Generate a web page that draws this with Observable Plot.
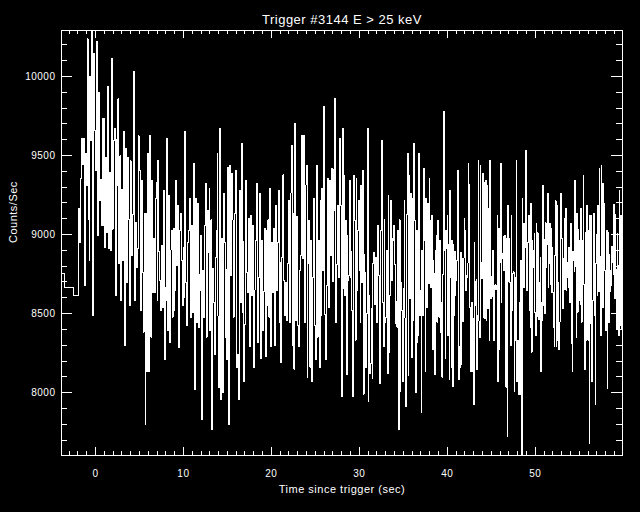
<!DOCTYPE html>
<html><head><meta charset="utf-8">
<script src="https://cdn.jsdelivr.net/npm/d3@7"></script>
<script src="https://cdn.jsdelivr.net/npm/@observablehq/plot@0.6"></script>
<style>
html,body{margin:0;padding:0;background:#000;}
#chart svg path, #chart svg line, #chart svg rect{shape-rendering:crispEdges;}
</style></head><body><div id="chart"></div>
<script>
const title = "Trigger #3144 E > 25 keV";
const xLabel = "Time since trigger (sec)";
const yLabel = "Counts/Sec";
const xTickLabels = [0, 10, 20, 30, 40, 50];
const yTickLabels = [8000, 8500, 9000, 9500, 10000];
const xDomain = [-3.86, 59.92];

// pre-burst coarse bins
const preTimes = [-3.86, -3.49, -2.47];
const preValues = [8751, 8663, 8614];

// fine-resolution segments, evenly spaced inside each segment
const segEdges = [-1.90, 6.70, 17.39, 28.07, 38.75, 49.43, 59.92];
const segA = [9167, 8951, 9356, 9609, 9445, 9609, 8677, 9514, 9308, 10237, 9098, 8835, 10002, 9592, 10290, 8488, 10145, 9655, 9403, 10220, 8993, 9897, 9213, 9350, 9056, 9733, 9056, 9733, 8919, 9487, 9014, 9934, 8909, 9392, 8898, 10111, 9035, 9592, 9670, 8614, 9602, 9308, 9859, 8814, 9497, 8583, 9283, 8835, 9651, 8299, 9546, 8698, 9487, 9098, 8551, 9466, 9287, 8867, 9129, 10029, 8583, 9077, 8793, 8909, 9623, 9403, 8520, 9340, 8762, 8383, 9136, 7799, 9136, 8131, 9514, 8131, 9628, 8352, 9340, 8635, 8976];
const segB = [8635, 9228, 9329, 8583, 9470, 8892, 8709, 8520, 8930, 8541, 9281, 8211, 8667, 8583, 9609, 8394, 9249, 8320, 8902, 9024, 8478, 9039, 8520, 8646, 9344, 8804, 9182, 8284, 9028, 9136, 8835, 8551, 8919, 8604, 9651, 8698, 8425, 8951, 9028, 9228, 8476, 8923, 9060, 8509, 9449, 8022, 9228, 8446, 9199, 8413, 8745, 8646, 8993, 7832, 8772, 8478, 9056, 9325, 8352, 9155, 8888, 9291, 8394, 9092, 7769, 8783, 8572, 8242, 8856, 9024, 9512, 8484, 8032, 9672, 7959, 8972, 8001, 9262, 8951, 8347, 8778, 8209, 9422, 7801, 9438, 8741, 9386, 9092, 8478, 9010, 9136, 9407, 8158, 8240, 7959, 9281, 8572, 9577, 8507, 8955, 8068, 8429, 9344, 8757, 8635];
const segC = [9102, 8289, 9123, 8614, 9060, 8492, 8158, 8650, 8965, 9325, 8320, 8730, 9262, 8215, 8965, 8394, 8640, 9039, 8226, 9024, 8551, 9092, 8478, 9293, 8289, 8951, 8631, 9039, 8299, 9186, 8646, 8951, 9281, 8446, 8825, 8190, 8856, 9377, 8709, 8488, 8698, 8457, 8818, 9218, 8446, 9262, 9565, 8299, 9136, 8148, 9701, 8457, 9115, 8425, 8289, 8772, 8867, 9628, 8846, 9628, 8446, 9312, 9438, 8099, 8818, 9087, 8162, 8965, 8068, 8730, 9228, 8425, 8209, 9438, 8352, 8965, 8158, 9218, 8488, 9291, 8772, 9808, 8492, 8209, 8677, 9354, 8541, 9340, 8867, 9417, 8703, 9409, 9150, 9861, 8446, 8808, 9186, 8730, 9609, 9182, 7973];
const segD = [9672, 8656, 9375, 8614, 9092, 8116, 8997, 8709, 8741, 9344, 8730, 8892, 8520, 7973, 9375, 9087, 8331, 9356, 8646, 9028, 9218, 8772, 8446, 9312, 8694, 9407, 7990, 8871, 8762, 8158, 8499, 9672, 7942, 8614, 8120, 8183, 8535, 8089, 8818, 8888, 8560, 8856, 8730, 8446, 9056, 8741, 8057, 8799, 9024, 9596, 8568, 8289, 9092, 8446, 8478, 8902, 8120, 9249, 8257, 8614, 9218, 8709, 8976, 8961, 9056, 8810, 8436, 8577, 8415, 9024, 7769, 9092, 8005, 8698, 8520, 8068, 8656, 9218, 8471, 7910, 9129, 9512, 8110, 9375, 8598, 9262, 8221, 9228, 8457, 9575, 9087, 8001, 9028, 8320, 8362, 9512, 8488, 8646, 7875, 8902, 8488, 9417, 8965, 8131, 9228, 8537, 9197, 8688, 9354, 9087, 8667, 9123, 8274, 8839, 8751, 8116, 8902];
const segE = [8997, 8446, 9092, 8741, 8478, 8965, 8383, 8572, 8099, 8745, 9388, 9777, 8898, 8215, 9028, 8913, 9123, 8362, 8934, 8085, 9281, 8730, 8162, 8965, 8036, 8934, 8488, 8892, 8614, 8709, 8835, 9199, 9407, 8085, 8293, 8162, 8888, 8179, 8846, 8450, 8850, 9104, 9028, 8646, 8741, 8730, 8820, 9451, 9319, 8541, 8226, 8131, 8572, 8131, 8467, 7927, 8951, 8551, 8703, 8715, 8148, 8488, 9470, 8453, 8347, 9438, 8825, 8719, 9262, 9386, 8478, 9329, 8467, 9344, 8455, 9312, 8535, 9167, 8331, 9470, 8593, 8736, 8608, 8902, 8541, 8331, 8677, 8682, 8650, 8677, 9123, 8068, 9039, 8274, 8825, 9449, 8572, 8850, 8883, 8989, 8772, 8997, 8394, 8036, 8976, 7721, 9186, 8703, 8976, 8694, 8299, 9123, 8520, 8751, 8766, 8005, 8730, 8331, 9470, 8068, 8331, 8274, 7990, 8572, 7990, 8839, 7603, 9230, 8667, 9071, 8667, 8919, 9533, 9071, 8646, 8951, 9071, 9123, 8520];
const segF = [8410, 9199, 8257, 8965, 8898, 8793, 9007, 8509, 8362, 9071, 8484, 9010, 8730, 8461, 8694, 8856, 8131, 8572, 8457, 9308, 8551, 8968, 8499, 9073, 8793, 8934, 9262, 8667, 8814, 9071, 8682, 9041, 8635, 8919, 8631, 8415, 8289, 8867, 9213, 8289, 9186, 8331, 8698, 8274, 8446, 8976, 9262, 8976, 8772, 8530, 8850, 9104, 8650, 9167, 8646, 8730, 8825, 8667, 8919, 8568, 8839, 9071, 8314, 8131, 8892, 8835, 8766, 9344, 8797, 8352, 9136, 8509, 9031, 8583, 8961, 8556, 9165, 8446, 8772, 8961, 9375, 8682, 8148, 9010, 8331, 9186, 8677, 8331, 9028, 7679, 9123, 8436, 9123, 8068, 8583, 8951, 9134, 8488, 7927, 8820, 8999, 8614, 9186, 8640, 9417, 8860, 8362, 9438, 8541, 9325, 8541, 9199, 8772, 8541, 8394, 9028, 8026, 9010, 8446, 8873, 8640, 8772, 8677, 8926, 8825, 8745, 9188, 8593, 9129, 8778, 8408, 9007, 8804, 8362, 9281, 8425, 9123, 8730, 8404];

const segs = [segA, segB, segC, segD, segE, segF];
const data = [];
preTimes.forEach((t, i) => data.push({t, v: preValues[i]}));
segs.forEach((vals, s) => {
  const t0 = segEdges[s], t1 = segEdges[s + 1];
  vals.forEach((v, i) => data.push({t: t0 + (t1 - t0) * i / vals.length, v}));
});
data.push({t: xDomain[1], v: data[data.length - 1].v});
const yDomain = d3.extent(data, d => d.v);

const W = 640, H = 512, mL = 61, mR = 18, mT = 30, mB = 57;
const frameW = W - mL - mR, frameH = H - mT - mB;
const xMinor = d3.range(-3, 60, 1).filter(d => d % 10 !== 0);
const yMinor = d3.range(7700, 10300, 100).filter(d => d % 500 !== 0);
const font = "'Liberation Sans', Arial, sans-serif";

const chart = Plot.plot({
  width: W, height: H,
  marginLeft: mL, marginRight: mR, marginTop: mT, marginBottom: mB,
  style: {background: "#000", color: "#fff", fontFamily: font, fontSize: "10px", letterSpacing: "0.5px"},
  x: {domain: xDomain, label: null},
  y: {domain: yDomain, label: null},
  marks: [
    Plot.line(data, {x: "t", y: "v", curve: "step-after", stroke: "#fff", strokeWidth: 1}),
    Plot.frame({stroke: "#fff"}),
    Plot.ruleX(xTickLabels, {x: d => d, insetTop: frameH - 8, stroke: "#fff"}),
    Plot.ruleX(xTickLabels, {x: d => d, insetBottom: frameH - 8, stroke: "#fff"}),
    Plot.ruleX(xMinor, {x: d => d, insetTop: frameH - 4, stroke: "#fff"}),
    Plot.ruleX(xMinor, {x: d => d, insetBottom: frameH - 4, stroke: "#fff"}),
    Plot.ruleY(yTickLabels, {y: d => d, insetRight: frameW - 11, stroke: "#fff"}),
    Plot.ruleY(yTickLabels, {y: d => d, insetLeft: frameW - 11, stroke: "#fff"}),
    Plot.ruleY(yMinor, {y: d => d, insetRight: frameW - 6, stroke: "#fff"}),
    Plot.ruleY(yMinor, {y: d => d, insetLeft: frameW - 6, stroke: "#fff"}),
    Plot.axisX(xTickLabels, {tickSize: 0, tickPadding: 14, label: null, fill: "#fff", tickFormat: d3.format("d")}),
    Plot.axisY(yTickLabels, {tickSize: 0, tickPadding: 6, label: null, fill: "#fff", tickFormat: d3.format("d")}),
    Plot.text([xLabel], {text: d => d, frameAnchor: "bottom", dy: 37, fontSize: 11, fill: "#fff"}),
    Plot.text([yLabel], {text: d => d, frameAnchor: "left", dx: -48, rotate: -90, fontSize: 11, fill: "#fff"}),
    Plot.text([title], {text: d => d, frameAnchor: "top", dy: -16, fontSize: 13, fill: "#fff"})
  ]
});
document.getElementById("chart").appendChild(chart);
</script></body></html>
